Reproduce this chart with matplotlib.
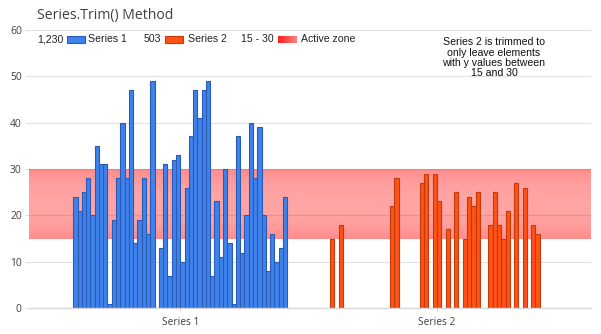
import numpy as np
import matplotlib.pyplot as plt
from matplotlib.patches import Rectangle

# data
series1 = [24, 21, 25, 28, 20, 35, 31, 31, 1, 19, 28, 40, 28, 47, 14, 19, 28, 16, 49, 0,
           13, 31, 7, 32, 33, 10, 26, 37, 47, 41, 47, 49, 7, 23, 11, 30, 14, 1, 37, 12,
           20, 40, 28, 39, 20, 8, 16, 10, 13, 24]
# series 2 after Trim(15, 30): index within series -> value
series2_idx = [0, 2, 14, 15, 21, 22, 24, 25, 27, 29, 31, 32, 33, 34, 37, 38, 39, 40, 41, 43, 45, 47, 48]
series2_val = [15, 18, 22, 28, 27, 29, 29, 23, 17, 25, 15, 24, 22, 25, 18, 25, 18, 15, 21, 27, 26, 18, 16]
series_names = ['Series 1', 'Series 2']
zone_low, zone_high = 15, 30
group_offset = 60
n_points = 50

W, H = 601, 334
fig = plt.figure(figsize=(W / 100, H / 100), dpi=100)
ax = fig.add_axes([29 / W, 25.7 / H, 562 / W, 278.7 / H])

x1 = np.arange(len(series1))
x2 = np.array(series2_idx) + group_offset
xlim = (-10.84, 120.47)

# active zone band with vertical gradient
t = np.linspace(0, 1, 100)
alpha = 0.36 + 0.10 * np.abs(2 * t - 1) ** 2.5
grad = np.zeros((100, 1, 4))
grad[..., 0] = 1.0
grad[..., 3] = alpha[:, None]
ax.imshow(grad, extent=[xlim[0], xlim[1], zone_low, zone_high], origin='lower',
          aspect='auto', zorder=1, interpolation='bilinear')

ax.bar(x1, series1, width=1.0, color='#3f82ec', edgecolor='#2b5cb5', linewidth=0.8, zorder=2)
ax.bar(x2, series2_val, width=1.0, color='#ff5216', edgecolor='#c43b0b', linewidth=0.8, zorder=2)

ax.set_xlim(*xlim)
ax.set_ylim(0, 60)
ax.set_yticks(range(0, 61, 10))
ax.set_xticks([(n_points - 1) / 2, (n_points - 1) / 2 + group_offset])
ax.set_xticklabels(series_names, fontfamily='Open Sans', fontsize=7.4, color='#404040')
for lab in ax.get_yticklabels():
    lab.set_fontfamily('Open Sans')
    lab.set_fontsize(7.4)
    lab.set_color('#404040')
ax.tick_params(axis='y', length=3, color='#e0e0e0', pad=2.2)
ax.tick_params(axis='x', length=2.5, color='#d0d0d0', pad=3.6)
ax.grid(axis='y', color='#e2e2e2', linewidth=0.8)
ax.set_axisbelow(True)
for s in ['top', 'right', 'left']:
    ax.spines[s].set_visible(False)
ax.spines['bottom'].set_color('#d8d8d8')
ax.spines['bottom'].set_linewidth(1.0)


def fx(px):
    return px / W


def fy(py):
    return 1 - py / H


fig.text(fx(37), fy(15), 'Series.Trim() Method', fontfamily='Open Sans', fontsize=10.1,
         color='#404040', va='center', ha='left')

# legend
leg_y = 39.5
lf = dict(fontfamily='Liberation Sans', fontsize=7.6, color='#222222', va='center', ha='left')
fig.text(fx(37.3), fy(leg_y), f'{sum(series1):,}', **lf)
fig.patches.append(Rectangle((fx(66.7), fy(43.3)), (85 - 66.7) / W, 7.3 / H, transform=fig.transFigure,
                             facecolor='#3f82ec', edgecolor='#2b5cb5', linewidth=0.8))
fig.text(fx(88.3), fy(leg_y), series_names[0], **lf)
fig.text(fx(144), fy(leg_y), f'{sum(series2_val):,}', **lf)
fig.patches.append(Rectangle((fx(165), fy(43.3)), (182.7 - 165) / W, 7.3 / H, transform=fig.transFigure,
                             facecolor='#ff5216', edgecolor='#c43b0b', linewidth=0.8))
fig.text(fx(187.7), fy(leg_y), series_names[1], **lf)
fig.text(fx(241), fy(leg_y), f'{zone_low} - {zone_high}', **lf)
sw = fig.add_axes([fx(278.3), fy(43.3), (296.7 - 278.3) / W, 7.3 / H])
hg = np.zeros((1, 50, 3))
hg[..., 0] = 1.0
hg[..., 1] = np.linspace(0.12, 0.5, 50)
hg[..., 2] = np.linspace(0.12, 0.5, 50)
sw.imshow(hg, aspect='auto', interpolation='bilinear')
sw.axis('off')
fig.text(fx(301), fy(leg_y), 'Active zone', **lf)

# annotation
note = ['Series 2 is trimmed to', 'only leave elements', 'with y values between',
        f'{zone_low} and {zone_high}']
for line, py in zip(note, [42, 52.5, 63, 73]):
    fig.text(fx(494), fy(py), line, fontfamily='Liberation Sans', fontsize=7.6, color='#111111',
             va='center', ha='center')

fig.savefig('out.png', dpi=100)
